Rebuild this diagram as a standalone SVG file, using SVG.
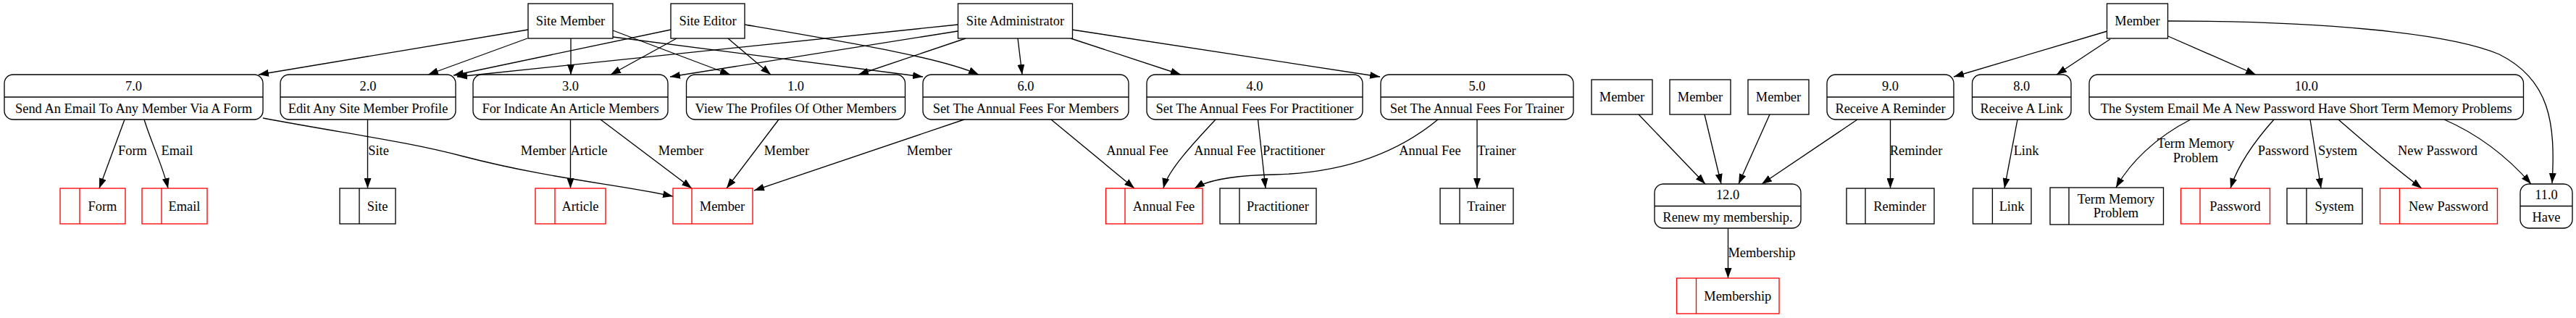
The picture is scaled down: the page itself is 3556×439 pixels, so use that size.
<svg xmlns="http://www.w3.org/2000/svg" width="3556" height="439" viewBox="0 0 3556 439">
<style>
text{font-family:"Liberation Serif","Times New Roman",serif;font-size:18.4px;text-anchor:middle;fill:#000}
.box{fill:#fff;stroke:#000;stroke-width:1.33}
.div{stroke:#000;stroke-width:1.33}
.red .box,.red .div{stroke:#ff0000}
.e{fill:none;stroke:#000;stroke-width:1.33;marker-end:url(#arr)}
</style>
<defs>
<marker id="arr" viewBox="0 0 14 10" refX="14" refY="5" markerWidth="14" markerHeight="10" markerUnits="userSpaceOnUse" orient="auto"><path d="M0,0L14,5L0,10z" fill="#000"/></marker>
</defs>
<rect width="3556" height="439" fill="#fff"/>
<g id="connectors">
<path class="e" d="M729,41L357,103"/>
<path class="e" d="M728,53L591,103"/>
<path class="e" d="M788,53L788,103"/>
<path class="e" d="M846,42L1008,103"/>
<path class="e" d="M846,51L1274,106"/>
<path class="e" d="M926,41L626,104"/>
<path class="e" d="M934,53L843,103"/>
<path class="e" d="M1005,53L1064,103"/>
<path class="e" d="M1028,34C1180,60 1300,80 1351,103"/>
<path class="e" d="M1322,34L631,106"/>
<path class="e" d="M1322,43L925,106"/>
<path class="e" d="M1333,53L1185,103"/>
<path class="e" d="M1405,53L1411,103"/>
<path class="e" d="M1478,53L1630,103"/>
<path class="e" d="M1480,41L1905,106"/>
<path class="e" d="M2909,43L2697,106"/>
<path class="e" d="M2913,54L2839,103"/>
<path class="e" d="M2993,50L3114,103"/>
<path class="e" d="M2993,29C3200,29 3380,45 3450,75C3520,110 3528,170 3523,253"/>
<path class="e" d="M172,165L137,260"/>
<path class="e" d="M199,165C210,200 225,230 232,260"/>
<path class="e" d="M363,163C480,185 560,195 640,216C760,247 850,254 929,271"/>
<path class="e" d="M507.5,165L507.5,260"/>
<path class="e" d="M787.5,165L787.5,260"/>
<path class="e" d="M829,165L955,260"/>
<path class="e" d="M1075,165L1003,260"/>
<path class="e" d="M1331,165L1041,263"/>
<path class="e" d="M1451,165L1566,260"/>
<path class="e" d="M1678,165C1650,195 1612,235 1606,260"/>
<path class="e" d="M1736.5,165L1747,260"/>
<path class="e" d="M1985,165C1900,235 1800,240 1760,241C1700,242 1665,250 1649,260"/>
<path class="e" d="M2039,165L2039,260"/>
<path class="e" d="M2262,158L2354,254"/>
<path class="e" d="M2353,158L2376,254"/>
<path class="e" d="M2443,158L2400,254"/>
<path class="e" d="M2564,165L2432,254"/>
<path class="e" d="M2609.5,165L2609.5,260"/>
<path class="e" d="M2385.5,315L2385.5,384"/>
<path class="e" d="M2785,165L2767,260"/>
<path class="e" d="M3024,165C2975,190 2940,225 2921,259"/>
<path class="e" d="M3139,165C3115,192 3090,225 3079,260"/>
<path class="e" d="M3189,165L3204,260"/>
<path class="e" d="M3228,165C3260,193 3310,235 3343,260"/>
<path class="e" d="M3374,165C3420,185 3460,215 3494,254"/>
<text x="183" y="214">Form</text>
<text x="244.5" y="214">Email</text>
<text x="522.5" y="214">Site</text>
<text x="750" y="214">Member</text>
<text x="813" y="214">Article</text>
<text x="940" y="214">Member</text>
<text x="1086" y="214">Member</text>
<text x="1283" y="214">Member</text>
<text x="1570" y="214">Annual Fee</text>
<text x="1691" y="214">Annual Fee</text>
<text x="1786" y="214">Practitioner</text>
<text x="1974" y="214">Annual Fee</text>
<text x="2066" y="214">Trainer</text>
<text x="2645" y="214">Reminder</text>
<text x="2432" y="355">Membership</text>
<text x="2797" y="214">Link</text>
<text x="3031" y="204">Term Memory</text>
<text x="3031" y="224">Problem</text>
<text x="3152" y="214">Password</text>
<text x="3227" y="214">System</text>
<text x="3365" y="214">New Password</text>
</g>
<g id="site_member"><rect class="box" x="729" y="5" width="117" height="48"/><text x="787.5" y="35">Site Member</text></g>
<g id="site_editor"><rect class="box" x="926" y="5" width="102" height="48"/><text x="977" y="35">Site Editor</text></g>
<g id="site_administrator"><rect class="box" x="1322.5" y="5" width="158" height="48"/><text x="1401.5" y="35">Site Administrator</text></g>
<g id="member_top"><rect class="box" x="2908.5" y="5" width="84" height="48"/><text x="2950.5" y="35">Member</text></g>
<g id="member_a"><rect class="box" x="2197" y="110" width="84" height="48"/><text x="2239" y="140">Member</text></g>
<g id="member_b"><rect class="box" x="2305" y="110" width="84" height="48"/><text x="2347" y="140">Member</text></g>
<g id="member_c"><rect class="box" x="2413" y="110" width="84" height="48"/><text x="2455" y="140">Member</text></g>
<g id="p7"><rect class="box" x="6" y="103" width="357" height="62" rx="12"/><line class="div" x1="6" y1="134" x2="363" y2="134"/><text x="184.5" y="125">7.0</text><text x="184.5" y="156">Send An Email To Any Member Via A Form</text></g>
<g id="p2"><rect class="box" x="387" y="103" width="242" height="62" rx="12"/><line class="div" x1="387" y1="134" x2="629" y2="134"/><text x="508" y="125">2.0</text><text x="508" y="156">Edit Any Site Member Profile</text></g>
<g id="p3"><rect class="box" x="653" y="103" width="269" height="62" rx="12"/><line class="div" x1="653" y1="134" x2="922" y2="134"/><text x="787.5" y="125">3.0</text><text x="787.5" y="156">For Indicate An Article Members</text></g>
<g id="p1"><rect class="box" x="947.5" y="103" width="302" height="62" rx="12"/><line class="div" x1="947.5" y1="134" x2="1249.5" y2="134"/><text x="1098.5" y="125">1.0</text><text x="1098.5" y="156">View The Profiles Of Other Members</text></g>
<g id="p6"><rect class="box" x="1274" y="103" width="284" height="62" rx="12"/><line class="div" x1="1274" y1="134" x2="1558" y2="134"/><text x="1416" y="125">6.0</text><text x="1416" y="156">Set The Annual Fees For Members</text></g>
<g id="p4"><rect class="box" x="1583" y="103" width="298" height="62" rx="12"/><line class="div" x1="1583" y1="134" x2="1881" y2="134"/><text x="1732" y="125">4.0</text><text x="1732" y="156">Set The Annual Fees For Practitioner</text></g>
<g id="p5"><rect class="box" x="1906" y="103" width="266" height="62" rx="12"/><line class="div" x1="1906" y1="134" x2="2172" y2="134"/><text x="2039" y="125">5.0</text><text x="2039" y="156">Set The Annual Fees For Trainer</text></g>
<g id="p9"><rect class="box" x="2522" y="103" width="175" height="62" rx="12"/><line class="div" x1="2522" y1="134" x2="2697" y2="134"/><text x="2609.5" y="125">9.0</text><text x="2609.5" y="156">Receive A Reminder</text></g>
<g id="p8"><rect class="box" x="2722.5" y="103" width="136.5" height="62" rx="12"/><line class="div" x1="2722.5" y1="134" x2="2859" y2="134"/><text x="2790.7" y="125">8.0</text><text x="2790.7" y="156">Receive A Link</text></g>
<g id="p10"><rect class="box" x="2884" y="103" width="599.5" height="62" rx="12"/><line class="div" x1="2884" y1="134" x2="3483.5" y2="134"/><text x="3183.8" y="125">10.0</text><text x="3183.8" y="156">The System Email Me A New Password Have Short Term Memory Problems</text></g>
<g id="p12"><rect class="box" x="2284" y="254" width="202" height="61" rx="12"/><line class="div" x1="2284" y1="284.5" x2="2486" y2="284.5"/><text x="2385" y="275">12.0</text><text x="2385" y="306">Renew my membership.</text></g>
<g id="p11"><rect class="box" x="3479" y="254" width="72" height="61" rx="12"/><line class="div" x1="3479" y1="284.5" x2="3551" y2="284.5"/><text x="3515" y="275">11.0</text><text x="3515" y="306">Have</text></g>
<g id="s_form" class="red"><rect class="box" x="83" y="260" width="90" height="49"/><line class="div" x1="110" y1="260" x2="110" y2="309"/><text x="141.5" y="290.5">Form</text></g>
<g id="s_email" class="red"><rect class="box" x="196" y="260" width="90" height="49"/><line class="div" x1="223" y1="260" x2="223" y2="309"/><text x="254.5" y="290.5">Email</text></g>
<g id="s_site"><rect class="box" x="469" y="260" width="77" height="49"/><line class="div" x1="496" y1="260" x2="496" y2="309"/><text x="521" y="290.5">Site</text></g>
<g id="s_article" class="red"><rect class="box" x="739" y="260" width="97" height="49"/><line class="div" x1="766" y1="260" x2="766" y2="309"/><text x="801" y="290.5">Article</text></g>
<g id="s_member" class="red"><rect class="box" x="929" y="260" width="110" height="49"/><line class="div" x1="955" y1="260" x2="955" y2="309"/><text x="997" y="290.5">Member</text></g>
<g id="s_annual_fee" class="red"><rect class="box" x="1526.5" y="260" width="133.5" height="49"/><line class="div" x1="1553" y1="260" x2="1553" y2="309"/><text x="1606.5" y="290.5">Annual Fee</text></g>
<g id="s_practitioner"><rect class="box" x="1684" y="260" width="133" height="49"/><line class="div" x1="1711" y1="260" x2="1711" y2="309"/><text x="1764" y="290.5">Practitioner</text></g>
<g id="s_trainer"><rect class="box" x="1988" y="260" width="101" height="49"/><line class="div" x1="2015" y1="260" x2="2015" y2="309"/><text x="2052" y="290.5">Trainer</text></g>
<g id="s_reminder"><rect class="box" x="2549" y="260" width="121" height="49"/><line class="div" x1="2575" y1="260" x2="2575" y2="309"/><text x="2622.5" y="290.5">Reminder</text></g>
<g id="s_link"><rect class="box" x="2723.5" y="260" width="80.5" height="49"/><line class="div" x1="2750.4" y1="260" x2="2750.4" y2="309"/><text x="2777" y="290.5">Link</text></g>
<g id="s_term_memory_problem"><rect class="box" x="2830" y="259" width="156.5" height="51"/><line class="div" x1="2856" y1="259" x2="2856" y2="310"/><text x="2921" y="281">Term Memory</text><text x="2921" y="300">Problem</text></g>
<g id="s_password" class="red"><rect class="box" x="3010.5" y="260" width="123" height="49"/><line class="div" x1="3037" y1="260" x2="3037" y2="309"/><text x="3085.5" y="290.5">Password</text></g>
<g id="s_system"><rect class="box" x="3157" y="260" width="104" height="49"/><line class="div" x1="3184" y1="260" x2="3184" y2="309"/><text x="3222.5" y="290.5">System</text></g>
<g id="s_new_password" class="red"><rect class="box" x="3285.5" y="260" width="162" height="49"/><line class="div" x1="3312.4" y1="260" x2="3312.4" y2="309"/><text x="3380" y="290.5">New Password</text></g>
<g id="s_membership" class="red"><rect class="box" x="2314.5" y="384" width="141.5" height="49"/><line class="div" x1="2341.5" y1="384" x2="2341.5" y2="433"/><text x="2398.8" y="414.5">Membership</text></g>
</svg>
